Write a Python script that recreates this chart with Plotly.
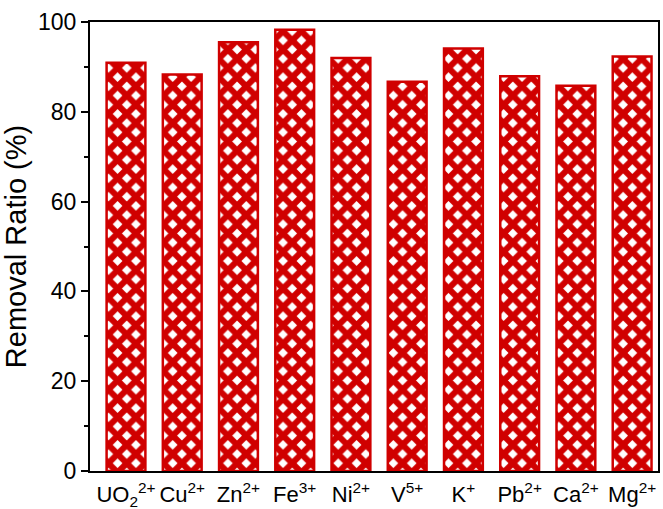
import plotly.graph_objects as go

ions = ["UO<sub>2</sub><sup>2+</sup>", "Cu<sup>2+</sup>", "Zn<sup>2+</sup>", "Fe<sup>3+</sup>", "Ni<sup>2+</sup>",
        "V<sup>5+</sup>", "K<sup>+</sup>", "Pb<sup>2+</sup>", "Ca<sup>2+</sup>", "Mg<sup>2+</sup>"]
removal = [90.9, 88.3, 95.5, 98.3, 92.0, 86.7, 94.1, 87.9, 85.8, 92.3]
y_ticks = [0, 20, 40, 60, 80, 100]

fig = go.Figure()
fig.add_trace(go.Bar(
    x=list(range(len(ions))), y=removal, width=0.69,
    marker=dict(
        color="white",
        line=dict(color="#d00000", width=2.5),
        pattern=dict(shape="x", fgcolor="#d00000", fgopacity=1, bgcolor="white", size=13, solidity=0.72),
    ),
))

font = "Liberation Sans, Arial, sans-serif"
fig.update_layout(
    width=663, height=509,
    margin=dict(l=90, r=5, t=22, b=38),
    paper_bgcolor="white", plot_bgcolor="white",
    showlegend=False,
    font=dict(family=font, color="black", size=22),
)
fig.update_xaxes(
    tickmode="array", tickvals=list(range(len(ions))), ticktext=ions,
    range=[-0.64, 9.46], tickangle=0, automargin=False, ticklabelstandoff=3,
    showline=True, linecolor="black", linewidth=2, mirror=True,
    ticks="", tickfont=dict(size=22, family=font, color="black"),
    showgrid=False, zeroline=False,
)
fig.update_yaxes(
    range=[0, 100], tickvals=y_ticks, automargin=False,
    showline=True, linecolor="black", linewidth=2, mirror=True,
    ticks="outside", ticklen=7, tickwidth=2, tickcolor="black",
    minor=dict(tickvals=[10, 30, 50, 70, 90], ticks="outside", ticklen=4, tickwidth=2, tickcolor="black"),
    tickfont=dict(size=23, family=font, color="black"),
    title=dict(text="Removal Ratio (%)", font=dict(size=29, family=font, color="black"), standoff=4),
    showgrid=False, zeroline=False,
)

fig.write_html("out.html")
